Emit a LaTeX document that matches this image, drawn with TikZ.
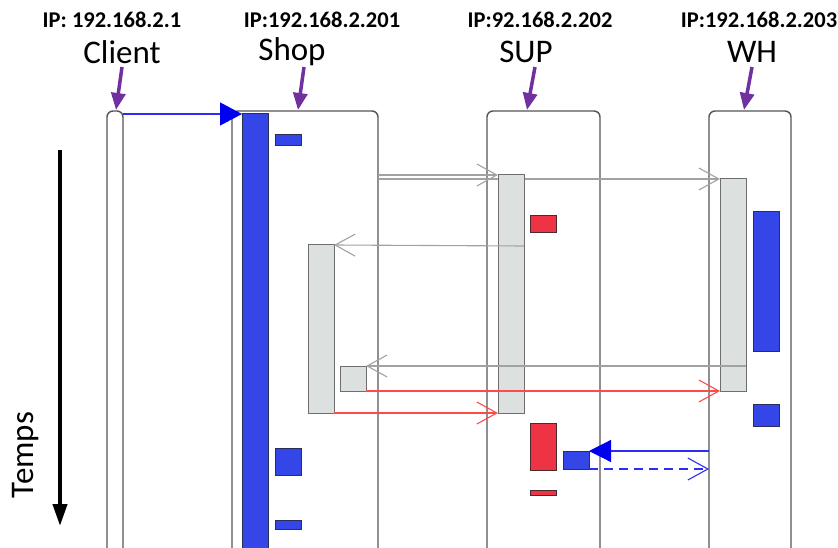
\documentclass[tikz,border=0pt]{standalone}
\usepackage{fontspec}
\setmainfont{Carlito}
\usetikzlibrary{arrows.meta}
\definecolor{lifegray}{HTML}{555555}
\definecolor{bluefill}{HTML}{3446E8}
\definecolor{bluedark}{HTML}{2A2F5A}
\definecolor{grayfill}{HTML}{DCE0DF}
\definecolor{graydark}{HTML}{6E6E6E}
\definecolor{redfill}{HTML}{EE3344}
\definecolor{reddark}{HTML}{4A2A2A}
\definecolor{arrgray}{HTML}{A2A2A2}
\definecolor{arrred}{HTML}{FF4A4A}
\definecolor{arrblue}{HTML}{2E2EF2}
\definecolor{headblue}{HTML}{0000F0}
\definecolor{purp}{HTML}{7030A0}
\tikzset{
  life/.style={draw=lifegray, line width=1.4pt},
  actbox/.style={anchor=north west, inner sep=0pt, outer sep=0pt, minimum width=26pt, line width=1pt},
  blueact/.style={actbox, fill=bluefill, draw=bluedark},
  grayact/.style={actbox, fill=grayfill, draw=graydark},
  redact/.style={actbox, fill=redfill, draw=reddark},
  garrow/.style={draw=arrgray, line width=1.1pt, -{Straight Barb[length=20pt,width=22pt]}},
  rarrow/.style={draw=arrred, line width=1.1pt, -{Straight Barb[length=20pt,width=22pt]}},
  barrow/.style={draw=arrblue, line width=1.2pt, -{Triangle[length=22pt,width=23pt,color=headblue]}},
  bdarrow/.style={draw=arrblue, line width=1.1pt, dash pattern=on 9pt off 6pt, -{Straight Barb[length=20pt,width=22pt]}},
  parrow/.style={draw=purp, line width=3.5pt, -{Triangle[length=17pt,width=14pt]}},
  iplabel/.style={font=\fontsize{22.5}{26}\selectfont\bfseries, inner sep=0pt},
  namelabel/.style={font=\fontsize{33}{38}\selectfont, inner sep=0pt},
}
\begin{document}
\begin{tikzpicture}[x=1pt,y=-1pt]
\useasboundingbox (0,0) rectangle (838,548);
% labels
\node[iplabel] (ipC) at (112,20) {IP: 192.168.2.1};
\node[iplabel] (ipS) at (322,20) {IP:192.168.2.201};
\node[iplabel] (ipU) at (540,20) {IP:92.168.2.202};
\node[iplabel] (ipW) at (759,20) {IP:192.168.2.203};
\node[namelabel] (nC) at (122,52) {Client};
\node[namelabel] (nS) at (292,52) {Shop};
\node[namelabel] (nU) at (526,52) {SUP};
\node[namelabel] (nW) at (752,52) {WH};
% purple pointers
\coordinate (pC1) at (122,67); \coordinate (pC2) at (116,110);
\coordinate (pS1) at (304,67); \coordinate (pS2) at (298,110);
\coordinate (pU1) at (535,67); \coordinate (pU2) at (527,110);
\coordinate (pW1) at (752,67); \coordinate (pW2) at (744,110);
\draw[parrow] (pC1) -- (pC2);
\draw[parrow] (pS1) -- (pS2);
\draw[parrow] (pU1) -- (pU2);
\draw[parrow] (pW1) -- (pW2);
% time axis
\coordinate (t1) at (60,150); \coordinate (t2) at (60,526);
\draw[line width=4pt, -{Triangle[length=22pt,width=14pt]}] (t1) -- (t2);
\node[namelabel, rotate=90] (temps) at (26,455) {Temps};
% lifelines
\draw[life, rounded corners=6pt] (107,552) -- (107,111) -- (123,111) -- (123,552);
\draw[life, rounded corners=6pt] (232,552) -- (232,111) -- (378,111) -- (378,552);
\draw[life, rounded corners=6pt] (487,552) -- (487,111) -- (600,111) -- (600,552);
\draw[life, rounded corners=6pt] (709,552) -- (709,111) -- (791,111) -- (791,552);
% background arrow (behind SUP activation)
\coordinate (sh2) at (378,179);
\node[grayact, minimum height=212pt] (whA) at (720,179) {};
\draw[garrow] (sh2) -- (whA.north west);
% activations
\node[blueact, minimum height=445pt] (shopA) at (242,114) {};
\node[blueact, minimum height=11pt] (shopB1) at (275,135) {};
\node[grayact, minimum height=238pt] (supA) at (498,175) {};
\node[redact, minimum height=17pt] (supR1) at (530,216) {};
\node[blueact, minimum height=139pt] (whB1) at (753,212) {};
\node[grayact, minimum height=168pt] (shopG) at (308,245) {};
\node[grayact, minimum height=25pt] (shopG2) at (340,366) {};
\node[blueact, minimum height=22pt] (whB2) at (753,404) {};
\node[redact, minimum height=47pt] (supR2) at (530,423) {};
\node[blueact, minimum height=18pt] (supB) at (563,451) {};
\node[redact, minimum height=5pt] (supR3) at (530,490) {};
\node[blueact, minimum height=27pt] (shopB2) at (275,448) {};
\node[blueact, minimum height=9pt] (shopB3) at (275,520) {};
% messages
\coordinate (cl1) at (123,114);
\draw[barrow] (cl1) -- (shopA.north west);
\coordinate (sh1) at (378,175);
\draw[garrow] (sh1) -- (supA.north west);
\coordinate (su1) at (524,246);
\draw[garrow] (su1) -- (shopG.north east);
\coordinate (wh1) at (746,366);
\draw[garrow] (wh1) -- (shopG2.north east);
\draw[rarrow] (shopG2.south east) -- (whA.south west);
\draw[rarrow] (shopG.south east) -- (supA.south west);
\coordinate (wh2) at (709,451);
\draw[barrow, -{Triangle[length=22pt,width=22pt,color=headblue]}] (wh2) -- (supB.north east);
\coordinate (wh3) at (709,469);
\draw[bdarrow] (supB.south east) -- (wh3);
\end{tikzpicture}
\end{document}
